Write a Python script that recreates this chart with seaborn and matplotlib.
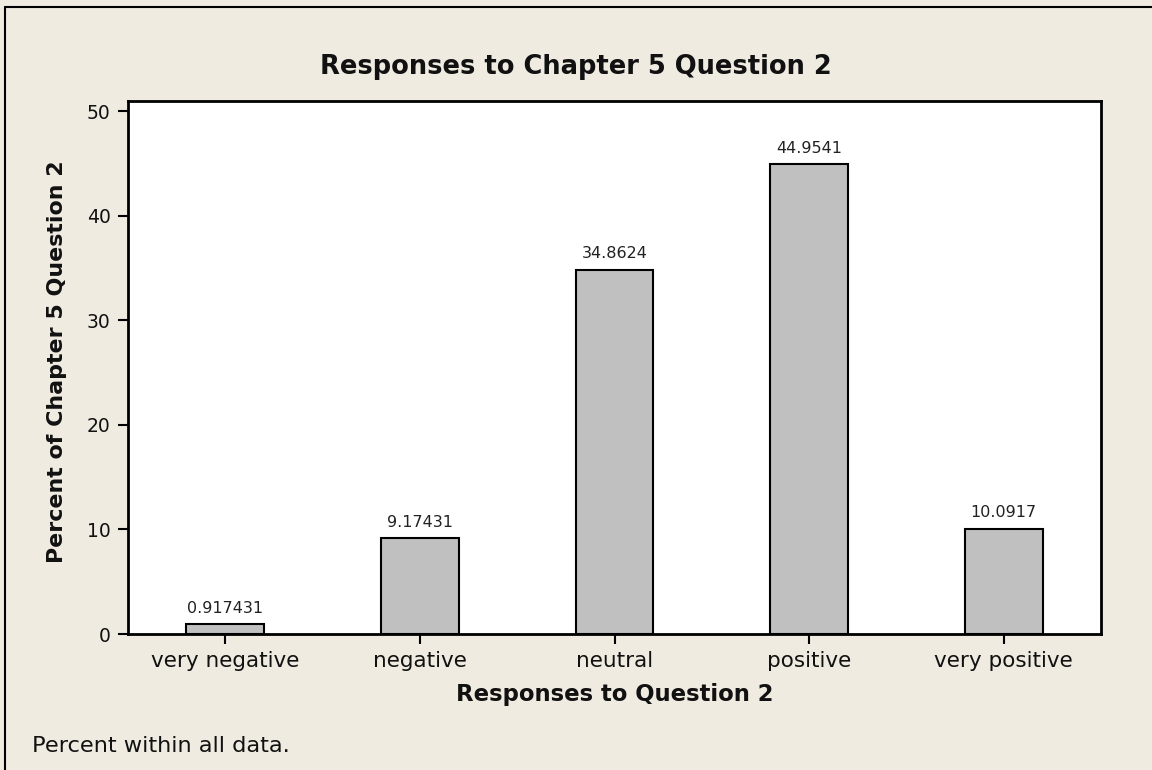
import numpy as np
import pandas as pd
import matplotlib
matplotlib.use("Agg")
import matplotlib.pyplot as plt
import seaborn as sns
from matplotlib.lines import Line2D

# values
responses = ["very negative", "negative", "neutral", "positive", "very positive"]
percents = [0.917431, 9.17431, 34.8624, 44.9541, 10.0917]
yticks = [0, 10, 20, 30, 40, 50]

bg = "#EFEBE1"
W, H = 1152, 770

sns.set_theme(style="white")
plt.rcParams['font.family'] = ['DejaVu Sans']

df = pd.DataFrame({"response": responses, "percent": percents})

fig = plt.figure(figsize=(W / 100, H / 100), dpi=100, facecolor=bg)
ax = fig.add_axes([128 / W, 1 - 634 / H, (1101 - 128) / W, (634 - 101) / H])
ax.set_facecolor("white")

sns.barplot(data=df, x="response", y="percent", order=responses, color="#C0C0C0",
            width=0.4, edgecolor="black", linewidth=1.5, saturation=1, ax=ax)

# value labels above each bar
ax.bar_label(ax.containers[0], labels=[f"{v:g}" for v in percents],
             padding=6, fontsize=11.5, color="#222222")

ax.set_xlim(-0.5, 4.5)
ax.set_ylim(0, 51)
ax.set_yticks(yticks)
for s in ax.spines.values():
    s.set_linewidth(2)
    s.set_color("black")
ax.tick_params(axis="both", direction="out", length=7.5, width=1.5, color="black",
               labelcolor="#111111", bottom=True, left=True)
ax.tick_params(axis="x", labelsize=15.5, pad=5)
ax.tick_params(axis="y", labelsize=13.5, pad=5)

ax.set_xlabel("Responses to Question 2", fontsize=16.4, fontweight="bold", color="#111111")
ax.xaxis.set_label_coords(0.5, (634 - 701) / 533)
ax.xaxis.label.set_va("baseline")
ax.set_ylabel("Percent of Chapter 5 Question 2", fontsize=15.9, fontweight="bold",
              color="#111111")
ax.yaxis.set_label_coords((63 - 128) / 973, (634 - 361.5) / 533)
ax.yaxis.label.set_va("baseline")

fig.text(0.5, 1 - 74 / H, "Responses to Chapter 5 Question 2", ha="center",
         va="baseline", fontsize=18.5, fontweight="bold", color="#111111")
fig.text(32 / W, 1 - 752 / H, "Percent within all data.", ha="left",
         va="baseline", fontsize=16.2, color="#111111")

# outer frame (top and left edges visible in the reference)
fig.add_artist(Line2D([5 / W, 5 / W], [0, 1 - 7 / H], color="black", lw=1.5,
                      transform=fig.transFigure))
fig.add_artist(Line2D([5 / W, 1], [1 - 7 / H, 1 - 7 / H], color="black", lw=1.5,
                      transform=fig.transFigure))

fig.savefig("out.png", dpi=100, facecolor=bg)
